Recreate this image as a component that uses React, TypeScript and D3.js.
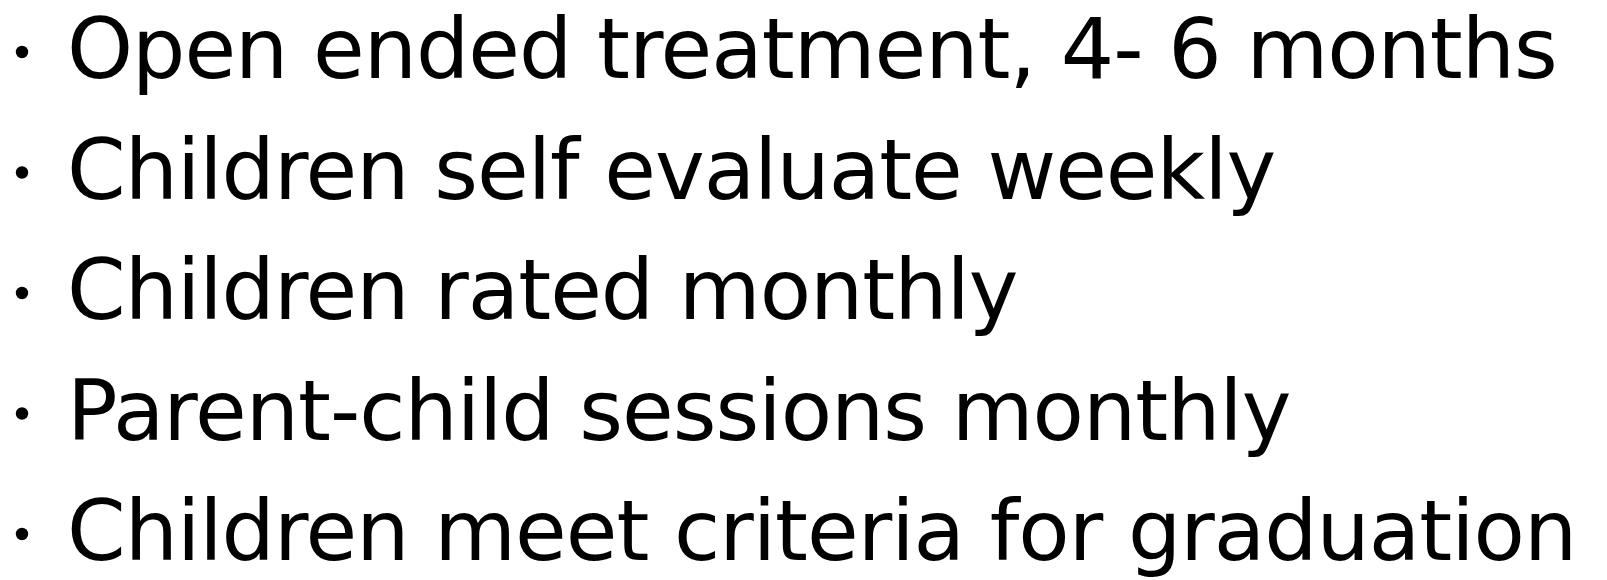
import React from "react";
import * as d3 from "d3";

const items: string[] = [
  "Open ended treatment, 4- 6 months",
  "Children self evaluate weekly",
  "Children rated monthly",
  "Parent-child sessions monthly",
  "Children meet criteria for graduation",
];

const W = 1607;
const H = 580;

export default function App() {
  const y = d3
    .scaleLinear()
    .domain([0, items.length - 1])
    .range([78, 560]);
  return (
    <svg
      width={W}
      height={H}
      style={{ position: "absolute", left: 0, top: 0, background: "#fff" }}
    >
      {items.map((t, i) => (
        <g key={i}>
          <circle cx={22} cy={y(i) - 26} r={6.2} fill="#000" />
          <text
            x={67}
            y={y(i)}
            fontFamily="DejaVu Sans"
            fontSize={84}
            letterSpacing={-1}
            fill="#000"
          >
            {t}
          </text>
        </g>
      ))}
    </svg>
  );
}
